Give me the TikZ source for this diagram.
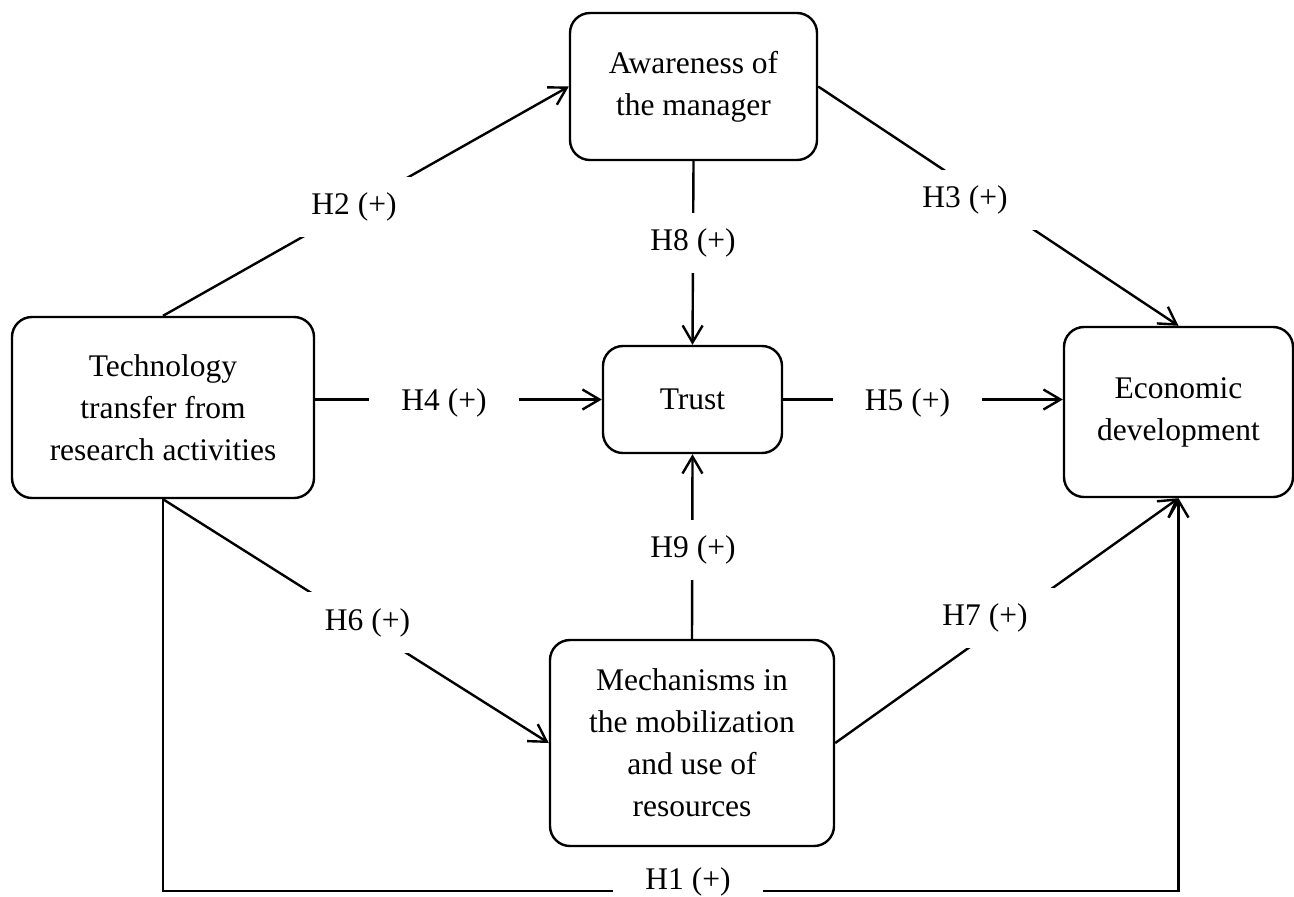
\documentclass[tikz,border=0pt]{standalone}
\usepackage{fontspec}
\setmainfont{Liberation Serif}
\usetikzlibrary{arrows.meta}
\begin{document}
\begin{tikzpicture}[x=0.5pt,y=-0.5pt,
  box/.style={draw, line width=1.2pt, rounded corners=10pt, align=center, inner sep=0pt,
    font=\fontsize{15.75}{21}\selectfont},
  lab/.style={fill=white, inner xsep=16pt, inner ysep=8pt, font=\fontsize{15.75}{21}\selectfont},
  conn/.style={line width=1.2pt},
  arr/.style={conn, -{Straight Barb[length=8.5pt,width=10pt]}}]
\useasboundingbox (0,0) rectangle (1294,896);
% boxes
\node[box, minimum width=123.5pt, minimum height=73.5pt] (aware) at (693.5,86.5) {Awareness of\\the manager};
\node[box, minimum width=151pt, minimum height=90.5pt] (tech) at (163,407.5) {Technology\\transfer from\\research activities};
\node[box, minimum width=89.5pt, minimum height=53.5pt] (trust) at (692.5,399.5) {Trust};
\node[box, minimum width=114.5pt, minimum height=85pt] (econ) at (1178.5,412) {Economic\\development};
\node[box, minimum width=142pt, minimum height=103pt] (mech) at (692,743) {Mechanisms in\\the mobilization\\and use of\\resources};
\coordinate (h1y) at (0,891);
% connectors
\draw[arr] (tech.north) -- (aware.west);
\draw[arr] (aware.east) -- (econ.north);
\draw[arr] (aware.south) -- (trust.north);
\draw[arr] (tech.east |- trust.west) -- (trust.west);
\draw[arr] (trust.east) -- (econ.west |- trust.east);
\draw[arr] (mech.north) -- (trust.south);
\draw[arr] (tech.south) -- (mech.west);
\draw[arr] (mech.east) -- (econ.south);
\draw[arr] (tech.south) -- (tech.south |- h1y) -- (econ.south |- h1y) -- (econ.south);
% labels
\node[lab] (l2) at (354,207) {H2 (+)};
\node[lab] (l3) at (965,200) {H3 (+)};
\node[lab] (l8) at (693,243) {H8 (+)};
\node[lab] (l4) at (444,403) {H4 (+)};
\node[lab] (l5) at (907.5,403) {H5 (+)};
\node[lab] (l9) at (693,550) {H9 (+)};
\node[lab] (l6) at (367.5,622.5) {H6 (+)};
\node[lab] (l7) at (985,618) {H7 (+)};
\node[lab] (l1) at (688,882) {H1 (+)};
\end{tikzpicture}
\end{document}
